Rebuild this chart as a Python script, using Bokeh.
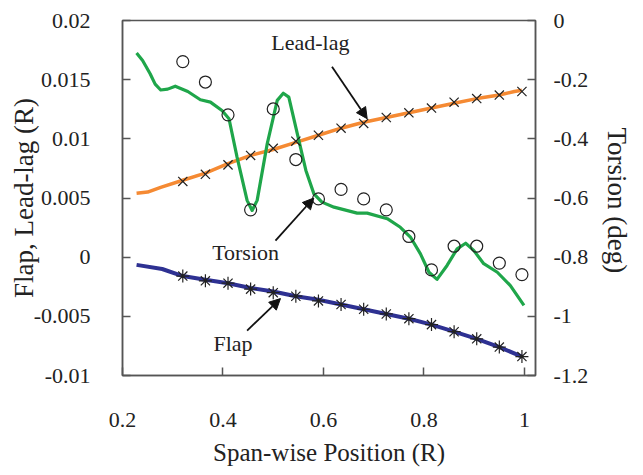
import math
from bokeh.plotting import figure
from bokeh.models import (Range1d, LinearAxis, FixedTicker, CustomJSTickFormatter,
                          Label, Arrow, NormalHead, Title)
from bokeh.embed import file_html
from bokeh.resources import INLINE

# ---- data ----
span_markers = [0.32, 0.365, 0.41, 0.455, 0.5, 0.545, 0.59, 0.635, 0.68, 0.725,
                0.77, 0.815, 0.86, 0.905, 0.95, 0.995]
leadlag_markers = [0.0064, 0.0070, 0.0078, 0.0086, 0.0092, 0.0098, 0.0103, 0.0109,
                   0.0113, 0.0118, 0.0122, 0.0126, 0.0131, 0.0134, 0.0137, 0.0140]
flap_markers = [-0.0016, -0.0020, -0.0022, -0.0027, -0.0030, -0.0033, -0.0037, -0.0040,
                -0.0044, -0.0048, -0.0052, -0.0057, -0.0063, -0.0069, -0.0076, -0.0084]
torsion_markers = [-0.139, -0.208, -0.319, -0.640, -0.299, -0.470, -0.603, -0.571,
                   -0.603, -0.640, -0.730, -0.843, -0.763, -0.763, -0.820, -0.859]

leadlag_line_x = [0.228, 0.25, 0.276, 0.32, 0.365, 0.41, 0.455, 0.5, 0.545, 0.59, 0.635,
                  0.68, 0.725, 0.77, 0.815, 0.86, 0.905, 0.95, 0.98, 0.995]
leadlag_line_y = [0.0054, 0.0055, 0.0059, 0.0065, 0.0071, 0.0079, 0.0086, 0.0091, 0.0097,
                  0.0103, 0.0109, 0.0114, 0.0118, 0.0122, 0.0126, 0.0130, 0.0134, 0.0137,
                  0.0140, 0.0141]

flap_line_x = [0.228, 0.279, 0.32, 0.365, 0.41, 0.455, 0.5, 0.545, 0.59, 0.635, 0.68,
               0.725, 0.77, 0.815, 0.86, 0.905, 0.95, 0.995]
flap_line_y = [-0.00065, -0.0010, -0.0016, -0.0019, -0.0022, -0.0026, -0.0029, -0.0033,
               -0.0036, -0.0040, -0.0044, -0.0048, -0.0052, -0.0057, -0.0063, -0.0069,
               -0.0076, -0.0084]

torsion_line_x = [0.228, 0.24, 0.255, 0.265, 0.276, 0.29, 0.305, 0.33, 0.355, 0.375,
                  0.398, 0.412, 0.428, 0.448, 0.458, 0.468, 0.488, 0.508, 0.52, 0.531,
                  0.548, 0.565, 0.581, 0.597, 0.621, 0.667, 0.687, 0.727, 0.753, 0.773,
                  0.793, 0.81, 0.826, 0.846, 0.866, 0.883, 0.899, 0.919, 0.946, 0.972,
                  0.999]
torsion_line_y = [-0.110, -0.135, -0.180, -0.215, -0.235, -0.232, -0.222, -0.240, -0.268,
                  -0.276, -0.304, -0.332, -0.462, -0.608, -0.642, -0.608, -0.417, -0.270,
                  -0.246, -0.259, -0.383, -0.507, -0.586, -0.614, -0.631, -0.651, -0.651,
                  -0.670, -0.699, -0.732, -0.789, -0.851, -0.875, -0.828, -0.772, -0.753,
                  -0.777, -0.822, -0.851, -0.896, -0.963]

x_ticks = [0.2, 0.4, 0.6, 0.8, 1]
left_ticks = [-0.01, -0.005, 0, 0.005, 0.01, 0.015, 0.02]
right_ticks = [-1.2, -1, -0.8, -0.6, -0.4, -0.2, 0]

# annotations: (text, x, y) and arrows (x0, y0, x1, y1)
labels = [("Lead-lag", 0.574, 0.0181), ("Torsion", 0.445, 0.0004), ("Flap", 0.42, -0.0073)]
arrows = [(0.617, 0.0161, 0.687, 0.0117),
          (0.5045, 0.0014, 0.5807, 0.0050),
          (0.448, -0.0062, 0.5144, -0.0035)]

FONT = "'Liberation Serif', 'Times New Roman', serif"
FRAME = "#555555"

p = figure(width=643, height=475, output_backend="svg", toolbar_location=None,
           x_range=Range1d(0.2, 1.022), y_range=Range1d(-0.01, 0.02),
           min_border_left=122, min_border_right=108, min_border_top=20,
           min_border_bottom=100)
p.extra_y_ranges = {"tor": Range1d(-1.2, 0)}
p.grid.visible = False
p.outline_line_color = FRAME
p.outline_line_width = 1.5
p.background_fill_color = "white"
p.border_fill_color = "white"

fmt = CustomJSTickFormatter(code="return tick.toString();")


def style(ax, ticks, size_label):
    ax.ticker = FixedTicker(ticks=ticks)
    ax.formatter = fmt
    ax.major_tick_in = 8
    ax.major_tick_out = 0
    ax.minor_tick_line_color = None
    ax.axis_line_color = FRAME
    ax.axis_line_width = 1.5
    ax.major_tick_line_color = FRAME
    ax.major_tick_line_width = 1.5
    ax.major_label_text_font = FONT
    ax.major_label_text_font_size = "22px"
    ax.major_label_text_color = "#222222"
    ax.axis_label_text_font = FONT
    ax.axis_label_text_font_size = size_label
    ax.axis_label_text_font_style = "normal"
    ax.axis_label_text_color = "#222222"


xa = p.xaxis[0]
style(xa, x_ticks, "25px")
xa.axis_label = "Span-wise Position (R)"
xa.major_label_standoff = 37
xa.axis_label_standoff = 9

ya = p.yaxis[0]
style(ya, left_ticks, "27px")
ya.axis_label = "Flap, Lead-lag (R)"
ya.major_label_standoff = 32
ya.axis_label_standoff = -8

ra = LinearAxis(y_range_name="tor")
style(ra, right_ticks, "27px")
ra.major_label_standoff = 18
p.add_layout(ra, "right")

p.add_layout(Title(text="Torsion (deg)", align="left", offset=107, text_font=FONT,
                   text_font_size="27px", text_font_style="normal",
                   text_color="#222222", standoff=20), "right")

# lines
p.line(leadlag_line_x, leadlag_line_y, line_color="#F58A33", line_width=3.5)
p.line(flap_line_x, flap_line_y, line_color="#2E3192", line_width=4)
p.line(torsion_line_x, torsion_line_y, line_color="#1FA64A", line_width=3.2,
       y_range_name="tor", line_join="round")

# markers
p.scatter(span_markers, leadlag_markers, marker="x", size=13, line_color="#222222",
          line_width=1.2)
p.scatter(span_markers, flap_markers, marker="asterisk", size=13, line_color="#222222",
          line_width=1.2)
p.scatter(span_markers, torsion_markers, marker="circle", size=12, line_color="#222222",
          fill_color=None, line_width=1.2, y_range_name="tor")

for t, x, y in labels:
    p.add_layout(Label(x=x, y=y, text=t, text_font=FONT, text_font_size="22px",
                       text_align="center", text_baseline="middle", text_color="#222222"))
for x0, y0, x1, y1 in arrows:
    p.add_layout(Arrow(x_start=x0, y_start=y0, x_end=x1, y_end=y1, line_width=1.8,
                       line_color="#111111",
                       end=NormalHead(size=11, fill_color="#111111", line_color="#111111")))

open("out.html", "w").write(file_html(p, INLINE))
